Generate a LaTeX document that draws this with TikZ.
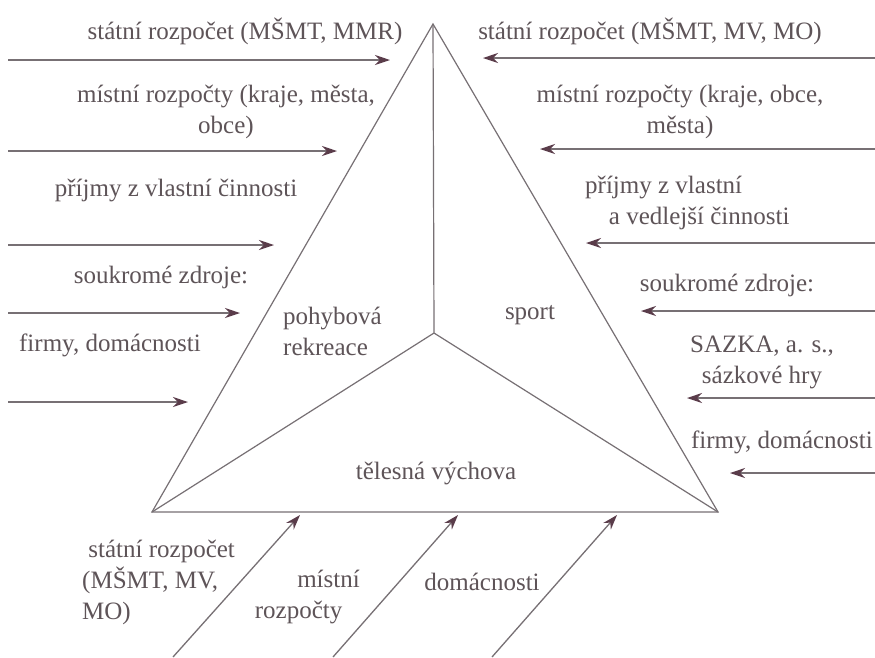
\documentclass[tikz,border=0pt]{standalone}
\usepackage{fontspec}
\setmainfont{Liberation Serif}
\usetikzlibrary{arrows.meta}
\definecolor{txt}{HTML}{5E5458}
\definecolor{ln}{HTML}{777074}
\definecolor{tipc}{HTML}{5A3C4A}
\begin{document}
\begin{tikzpicture}[x=1pt,y=-1pt,
  lbl/.style={text=txt,font=\fontsize{25}{31}\selectfont,inner sep=0pt,align=center},
  edge/.style={draw=ln,line width=1.2pt,line join=miter},
  arr/.style={draw=ln,line width=1.3pt,-{Stealth[length=15pt,width=10pt,color=tipc,fill=tipc]}}]
\useasboundingbox (0,0) rectangle (875,657);
\fill[white] (0,0) rectangle (875,657);
% triangle
\coordinate (A) at (433,24);
\coordinate (L) at (152,512);
\coordinate (R) at (718,512);
\coordinate (C) at (434,333);
\draw[edge] (L) -- (A) -- (R) -- cycle;
\draw[edge] (A) -- (C) (C) -- (L) (C) -- (R);
% inner labels
\node[lbl,align=left,anchor=west] (pr) at (283,331) {pohybová\\rekreace};
\node[lbl] (sp) at (530,315) {sport};
\node[lbl] (tv) at (436,473) {tělesná výchova};
% left arrows
\coordinate (l1s) at (8,60);  \coordinate (l1e) at (390,60);
\coordinate (l2s) at (8,151); \coordinate (l2e) at (337,151);
\coordinate (l3s) at (8,245); \coordinate (l3e) at (274,245);
\coordinate (l4s) at (8,313); \coordinate (l4e) at (240,313);
\coordinate (l5s) at (8,402); \coordinate (l5e) at (188,402);
\foreach \i in {1,...,5} {\draw[arr] (l\i s) -- (l\i e);}
\node[lbl] (lt1) at (245,31) {státní rozpočet (MŠMT, MMR)};
\node[lbl] (lt2) at (226,112) {místní rozpočty (kraje, města,\\obce)};
\node[lbl] (lt3) at (176,190) {příjmy z vlastní činnosti};
\node[lbl] (lt4) at (161,277) {soukromé zdroje:};
\node[lbl] (lt5) at (110,345) {firmy, domácnosti};
% right arrows
\coordinate (r1s) at (875,58);  \coordinate (r1e) at (483,58);
\coordinate (r2s) at (875,149); \coordinate (r2e) at (540,149);
\coordinate (r3s) at (875,243); \coordinate (r3e) at (586,243);
\coordinate (r4s) at (875,311); \coordinate (r4e) at (641,311);
\coordinate (r5s) at (875,398); \coordinate (r5e) at (687,398);
\coordinate (r6s) at (875,473); \coordinate (r6e) at (730,473);
\foreach \i in {1,...,6} {\draw[arr] (r\i s) -- (r\i e);}
\node[lbl] (rt1) at (650,31) {státní rozpočet (MŠMT, MV, MO)};
\node[lbl] (rt2) at (680,112) {místní rozpočty (kraje, obce,\\města)};
\node[lbl,align=left,anchor=west] (rt3) at (585,203) {příjmy z vlastní\\\hspace*{0.95em}a vedlejší činnosti};
\node[lbl] (rt4) at (727,285) {soukromé zdroje:};
\node[lbl] (rt5) at (762,362) {SAZKA, a. s.,\\sázkové hry};
\node[lbl,anchor=east] (rt6) at (873,442) {firmy, domácnosti};
% bottom arrows
\coordinate (b1s) at (173,657); \coordinate (b1e) at (300,515);
\coordinate (b2s) at (333,657); \coordinate (b2e) at (458,515);
\coordinate (b3s) at (492,657); \coordinate (b3e) at (617,515);
\foreach \i in {1,2,3} {\draw[arr] (b\i s) -- (b\i e);}
\node[lbl,align=left,anchor=west] (bt1) at (82,582) {\hspace*{0.25em}státní rozpočet\\(MŠMT, MV,\\MO)};
\node[lbl,align=right,anchor=east] (bt2) at (360,597) {místní\\rozpočty\hspace*{0.7em}};
\node[lbl] (bt3) at (482,582) {domácnosti};
\end{tikzpicture}
\end{document}
